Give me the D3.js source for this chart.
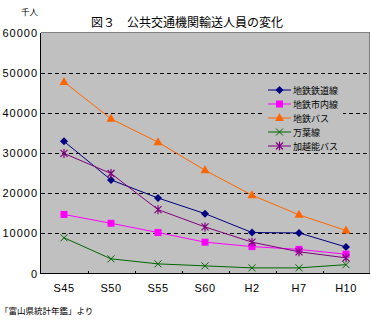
<!DOCTYPE html>
<html><head><meta charset="utf-8">
<script src="https://cdn.jsdelivr.net/npm/d3@7"></script>
<style>
body{margin:0;background:#fff;}
text{font-family:"Noto Sans CJK JP","Liberation Sans",sans-serif;}
</style></head>
<body><svg id="c" width="371" height="327"></svg>
<script>
const categories = ["S45","S50","S55","S60","H2","H7","H10"];
const seriesNames = ["地鉄鉄道線","地鉄市内線","地鉄バス","万葉線","加越能バス"];
const railway  = [32900,23300,18800,14900,10200,10100,6600];
const cityTram = [14700,12500,10200,7800,6700,6000,4800];
const bus      = [47700,38500,32700,25700,19500,14600,10700];
const manyo    = [8900,3650,2400,1900,1400,1400,2200];
const kaetsuno = [29900,24900,15900,11600,7800,5400,3900];
const yTicks = [0,10000,20000,30000,40000,50000,60000];
const colors = ["#000080","#FF00FF","#FF6600","#006600","#800080"];
const markers = ["diamond","square","triangle","x","star"];
const data = [railway,cityTram,bus,manyo,kaetsuno];

const svg = d3.select("#c");
const L=40.5, R=369.5, T=32.5, B=273.5;
const x = d3.scaleBand().domain(categories).range([L,R]);
const y = d3.scaleLinear().domain([0,60000]).range([B,T]);

svg.append("rect").attr("x",L).attr("y",T).attr("width",R-L).attr("height",B-T).attr("fill","#C0C0C0");
// gridlines
svg.append("g").selectAll("line").data(yTicks.filter(d=>d>0&&d<60000)).join("line")
  .attr("x1",L).attr("x2",R).attr("y1",d=>Math.round(y(d))+0.5).attr("y2",d=>Math.round(y(d))+0.5)
  .attr("stroke","#000").attr("stroke-dasharray","4,3").attr("shape-rendering","crispEdges");
// frame
svg.append("path").attr("d",`M${L},${T}H${R}V${B}`).attr("fill","none").attr("stroke","#808080").attr("shape-rendering","crispEdges");
svg.append("path").attr("d",`M${L},${T}V${B}H${R}`).attr("fill","none").attr("stroke","#000").attr("shape-rendering","crispEdges");

// x ticks (inside)
svg.append("g").selectAll("line").data(categories.slice(1)).join("line")
  .attr("x1",d=>Math.round(x(d))+0.5).attr("x2",d=>Math.round(x(d))+0.5)
  .attr("y1",B).attr("y2",B-3).attr("stroke","#000").attr("shape-rendering","crispEdges");

// y labels
svg.append("g").selectAll("text").data(yTicks).join("text")
  .attr("x",38).attr("y",d=>y(d)+4).attr("text-anchor","end")
  .attr("font-size","11px").attr("letter-spacing","1px").style("font-family","'Liberation Sans',sans-serif")
  .text(d=>d);
// x labels
svg.append("g").selectAll("text").data(categories).join("text")
  .attr("x",d=>x(d)+x.bandwidth()/2).attr("y",292).attr("text-anchor","middle")
  .attr("font-size","11px").attr("letter-spacing","0.5px").style("font-family","'Liberation Sans',sans-serif")
  .text(d=>d);

function drawMarker(g, type, cx, cy, col){
  if(type==="diamond"){
    g.append("path").attr("d",`M${cx},${cy-4}L${cx+4},${cy}L${cx},${cy+4}L${cx-4},${cy}Z`).attr("fill",col);
  } else if(type==="square"){
    g.append("rect").attr("x",cx-3.5).attr("y",cy-3.5).attr("width",7).attr("height",7).attr("fill",col);
  } else if(type==="triangle"){
    g.append("path").attr("d",`M${cx},${cy-5}L${cx+4.5},${cy+3}L${cx-4.5},${cy+3}Z`).attr("fill",col);
  } else if(type==="x"){
    g.append("path").attr("d",`M${cx-3.5},${cy-3.5}L${cx+3.5},${cy+3.5}M${cx-3.5},${cy+3.5}L${cx+3.5},${cy-3.5}`).attr("stroke",col).attr("stroke-width",1);
  } else {
    g.append("path").attr("d",`M${cx-3.5},${cy-3.5}L${cx+3.5},${cy+3.5}M${cx-3.5},${cy+3.5}L${cx+3.5},${cy-3.5}M${cx},${cy-4.5}V${cy+4.5}`).attr("stroke",col).attr("stroke-width",1.2);
  }
}

const line = d3.line().x((d,i)=>x(categories[i])+x.bandwidth()/2).y(d=>y(d));
data.forEach((vals,si)=>{
  const g = svg.append("g");
  g.append("path").datum(vals).attr("d",line).attr("fill","none").attr("stroke",colors[si]).attr("stroke-width",1);
  vals.forEach((v,i)=>drawMarker(g, markers[si], x(categories[i])+x.bandwidth()/2, y(v), colors[si]));
});

// legend
const leg = svg.append("g");
leg.append("rect").attr("x",265).attr("y",81).attr("width",78).attr("height",70).attr("fill","#C0C0C0");
seriesNames.forEach((n,i)=>{
  const ly = 90 + i*14;
  leg.append("line").attr("x1",268).attr("x2",291).attr("y1",ly).attr("y2",ly).attr("stroke",colors[i]);
  drawMarker(leg, markers[i], 279.5, ly, colors[i]);
  leg.append("text").attr("x",293).attr("y",ly+3.5).attr("font-size","9px").text(n);
});

// title etc
svg.append("text").attr("x",187).attr("y",27).attr("text-anchor","middle").attr("font-size","12px").text("図３　公共交通機関輸送人員の変化");
svg.append("text").attr("x",21).attr("y",15).attr("font-size","8.5px").text("千人");
svg.append("text").attr("x",0).attr("y",314).attr("font-size","8.5px").text("「富山県統計年鑑」より");
</script></body></html>
